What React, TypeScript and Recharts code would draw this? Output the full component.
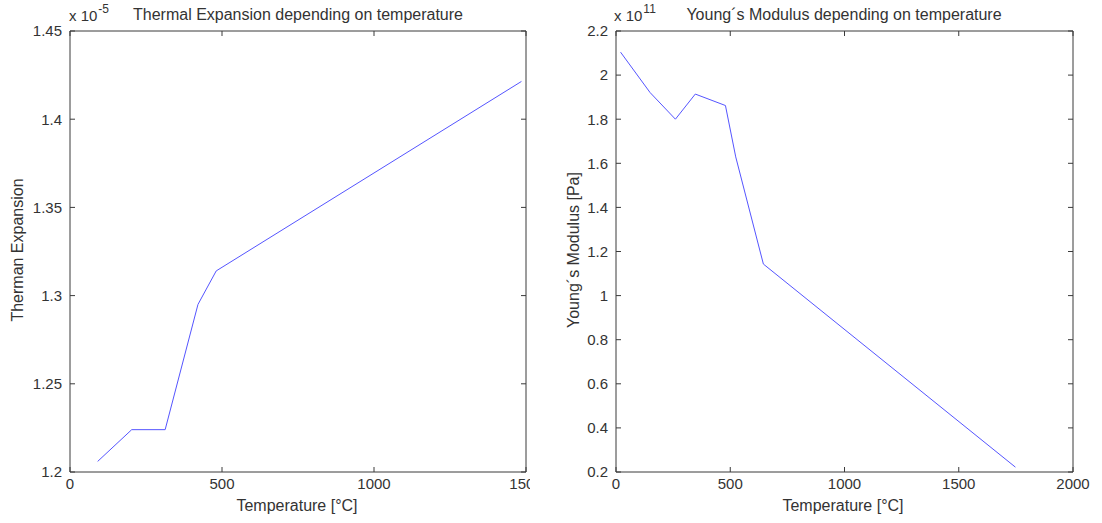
import { Line, LineChart, XAxis, YAxis } from "recharts";

// Thermal expansion (x 1e-5) vs temperature
const thermalTemp = [91, 203, 313, 421, 481, 1485];
const thermalExp = [1.206, 1.224, 1.224, 1.295, 1.314, 1.4214];
const thermalXTicks = [0, 500, 1000, 1500];
const thermalYTicks = [1.2, 1.25, 1.3, 1.35, 1.4, 1.45];

// Young's modulus (x 1e11 Pa) vs temperature
const youngTemp = [20, 149, 260, 347, 479, 524, 645, 1748];
const youngMod = [2.104, 1.921, 1.8, 1.914, 1.862, 1.629, 1.143, 0.222];
const youngXTicks = [0, 500, 1000, 1500, 2000];
const youngYTicks = [0.2, 0.4, 0.6, 0.8, 1, 1.2, 1.4, 1.6, 1.8, 2, 2.2];

const thermalData = thermalTemp.map((t, i) => ({ t, v: thermalExp[i] }));
const youngData = youngTemp.map((t, i) => ({ t, v: youngMod[i] }));

const FONT = '"Liberation Sans", Arial, Helvetica, sans-serif';
const TEXT = "#333333";
const AXIS = "#3a3a3a";
const LINE = "#5555ff";

const noTick = () => <g />;

interface PlotProps {
  data: { t: number; v: number }[];
  xTicks: number[];
  yTicks: number[];
  xMax: number;
  yMin: number;
  yMax: number;
  width: number;
  margin: { top: number; right: number; bottom: number; left: number };
}

const Plot = ({ data, xTicks, yTicks, xMax, yMin, yMax, width, margin }: PlotProps) => (
  <LineChart width={width} height={523} data={data} margin={margin}>
    <XAxis
      xAxisId="bottom"
      dataKey="t"
      type="number"
      domain={[0, xMax]}
      ticks={xTicks}
      allowDataOverflow
      height={40}
      tickSize={-5}
      tickMargin={11}
      axisLine={{ stroke: AXIS }}
      tickLine={{ stroke: AXIS }}
      tick={{ fill: TEXT, fontSize: 15, fontFamily: FONT }}
    />
    <XAxis
      xAxisId="top"
      orientation="top"
      dataKey="t"
      type="number"
      domain={[0, xMax]}
      ticks={xTicks}
      allowDataOverflow
      height={1}
      tickSize={-5}
      axisLine={{ stroke: AXIS }}
      tickLine={{ stroke: AXIS }}
      tick={noTick}
    />
    <YAxis
      yAxisId="left"
      type="number"
      domain={[yMin, yMax]}
      ticks={yTicks}
      allowDataOverflow
      width={50}
      tickSize={-5}
      tickMargin={13}
      axisLine={{ stroke: AXIS }}
      tickLine={{ stroke: AXIS }}
      tick={{ fill: TEXT, fontSize: 15, fontFamily: FONT }}
    />
    <YAxis
      yAxisId="right"
      orientation="right"
      type="number"
      domain={[yMin, yMax]}
      ticks={yTicks}
      allowDataOverflow
      width={1}
      tickSize={-5}
      axisLine={{ stroke: AXIS }}
      tickLine={{ stroke: AXIS }}
      tick={noTick}
    />
    <Line
      xAxisId="bottom"
      yAxisId="left"
      type="linear"
      dataKey="v"
      stroke={LINE}
      strokeWidth={1}
      dot={false}
      activeDot={false}
      isAnimationActive={false}
    />
  </LineChart>
);

const Centered = ({ cx, cy, text, rotate }: { cx: number; cy: number; text: string; rotate?: boolean }) => (
  <div
    style={{
      position: "absolute",
      left: cx - 200,
      top: cy - 9,
      width: 400,
      height: 18,
      lineHeight: "18px",
      textAlign: "center",
      fontSize: 16,
      whiteSpace: "nowrap",
      transform: rotate ? "rotate(-90deg)" : undefined,
    }}
  >
    {text}
  </div>
);

const Exponent = ({ x, exp }: { x: number; exp: string }) => (
  <div style={{ position: "absolute", left: x, top: 8, fontSize: 15, lineHeight: "16px", whiteSpace: "nowrap" }}>
    x 10
    <span style={{ fontSize: 12, position: "relative", top: -8, marginLeft: 1 }}>{exp}</span>
  </div>
);

export default function App() {
  return (
    <div
      style={{
        position: "absolute",
        left: 0,
        top: 0,
        width: 1102,
        height: 523,
        background: "#ffffff",
        fontFamily: FONT,
        color: TEXT,
        overflow: "hidden",
      }}
    >
      <div style={{ position: "absolute", left: 0, top: 0 }}>
        <Plot
          data={thermalData}
          xTicks={thermalXTicks}
          yTicks={thermalYTicks}
          xMax={1500}
          yMin={1.2}
          yMax={1.45}
          width={551}
          margin={{ top: 30, right: 24, bottom: 11, left: 20 }}
        />
      </div>
      <div style={{ position: "absolute", left: 530, top: 0, background: "#ffffff" }}>
        <Plot
          data={youngData}
          xTicks={youngXTicks}
          yTicks={youngYTicks}
          xMax={2000}
          yMin={0.2}
          yMax={2.2}
          width={572}
          margin={{ top: 30, right: 28, bottom: 11, left: 36 }}
        />
      </div>

      <Centered cx={298} cy={15} text="Thermal Expansion depending on temperature" />
      <Centered cx={844} cy={15} text="Young´s Modulus depending on temperature" />
      <Exponent x={69} exp="-5" />
      <Exponent x={614} exp="11" />
      <Centered cx={297} cy={506} text="Temperature [°C]" />
      <Centered cx={843} cy={506} text="Temperature [°C]" />
      <Centered cx={18} cy={250} text="Therman Expansion" rotate />
      <Centered cx={574} cy={250} text="Young´s Modulus [Pa]" rotate />
    </div>
  );
}
